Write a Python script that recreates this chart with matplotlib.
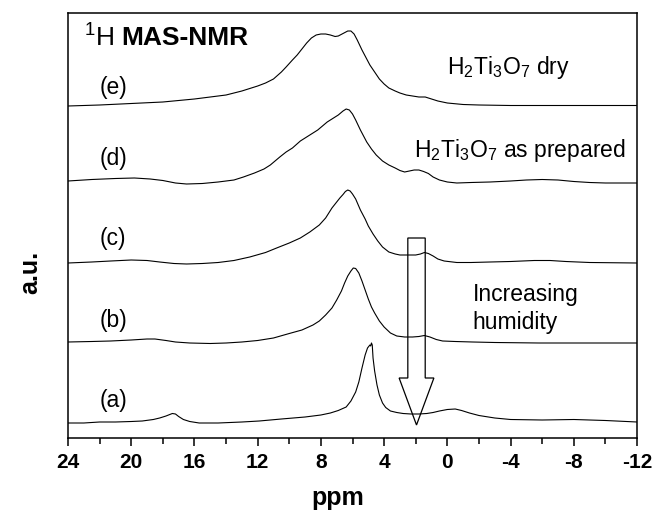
import matplotlib
matplotlib.use("Agg")
import matplotlib.pyplot as plt
from matplotlib.patches import Polygon
import numpy as np

plt.rcParams["font.family"] = ["Liberation Sans", "DejaVu Sans"]
plt.rcParams["mathtext.fontset"] = "custom"
plt.rcParams["mathtext.rm"] = "Liberation Sans"
plt.rcParams["mathtext.it"] = "Liberation Sans:italic"
plt.rcParams["mathtext.bf"] = "Liberation Sans:bold"

# spectra: chemical shift (ppm) and stacked intensity (a.u.)
ppm_e = [24, 22, 20, 18, 16, 14, 13, 12, 11.5, 11, 10.5, 10.2, 9.8, 9.5, 9.2, 8.9, 8.6, 8.3,
         8.0, 7.7, 7.4, 7.1, 6.9, 6.6, 6.3, 6.1, 5.9, 5.7, 5.4, 5.1, 4.9, 4.6, 4.3, 4.0,
         3.7, 3.3, 3.0, 2.6, 2.2, 1.8, 1.4, 1.0, 0.6, 0.0, -1, -2, -4, -12]
int_e = [332, 333, 334.5, 336, 339, 343, 347, 352, 355, 359, 366, 371, 378, 383, 389, 395, 400, 403,
         404, 404, 403, 401.5, 402, 404.5, 407, 407, 404, 398, 388, 379, 373, 366, 359, 354,
         350, 347, 345, 343, 342, 341, 341, 339, 337, 335, 333.5, 333, 332.5, 332.5]

ppm_d = [24, 22.5, 21, 19.8, 18.8, 18, 17.2, 16.5, 15.5, 14.5, 13.5, 12.9, 12.2, 11.6, 11.2,
         10.6, 10.2, 9.8, 9.3, 8.7, 8.2, 7.6, 7.2, 6.9, 6.6, 6.4, 6.2, 6.0, 5.8, 5.5, 5.1,
         4.8, 4.5, 4.1, 3.7, 3.3, 3.0, 2.7, 2.4, 2.1, 1.8, 1.5, 1.2, 0.9, 0.5, 0, -0.6,
         -1.5, -2.7, -4, -5, -6, -7, -8, -9, -10, -12]
int_d = [257, 258.5, 259.5, 260, 259, 257.5, 255, 254, 254.5, 256, 258, 261, 265, 269, 273,
         281, 286, 290, 297, 303, 308, 316, 320, 323, 327, 329, 328, 324, 318, 308, 296,
         289, 283, 277, 273, 270, 267.5, 266, 267, 268, 268, 266.5, 264.5, 261, 258, 256, 255,
         255.5, 256, 257, 258, 258.5, 258, 256.5, 255.5, 255, 255]

ppm_c = [24, 22.5, 21.3, 20, 19, 18.2, 17.3, 16.5, 15.5, 14.5, 13.5, 12.5, 11.5, 10.8, 10,
         9.3, 8.7, 8.1, 7.7, 7.3, 7.0, 6.8, 6.6, 6.45, 6.3, 6.15, 6.0, 5.8, 5.5, 5.2, 5.0,
         4.7, 4.4, 4.1, 3.7, 3.3, 3.0, 2.5, 2.0, 1.7, 1.45, 1.2, 0.9, 0.6, 0.2, -0.6, -1.5,
         -2.7, -4, -5.5, -6.5, -7.5, -9.0, -12]
int_c = [175, 176, 177, 178, 177.5, 176, 174.5, 174, 174.5, 175.5, 177.5, 181, 185.5, 190, 195,
         200, 206, 213, 220, 230, 236, 240, 243.5, 246.5, 248, 247, 244, 239, 228, 219, 212,
         204, 197, 191, 186, 184, 183, 183, 183, 184, 185.5, 184.5, 182, 179, 177, 175.5, 175.5,
         176, 176.5, 177.5, 177.5, 176.5, 175.5, 175]

ppm_b = [24, 22.5, 21.3, 20, 19, 18.5, 17.8, 17.2, 16.3, 15, 14, 13, 12, 11, 10, 9.2, 8.5,
         8.1, 7.7, 7.3, 7.0, 6.7, 6.5, 6.3, 6.1, 5.95, 5.8, 5.6, 5.4, 5.2, 5.0, 4.8, 4.6,
         4.3, 4.0, 3.6, 3.2, 2.7, 2.2, 1.8, 1.45, 1.1, 0.7, 0.3, -0.5, -1.6, -3, -5.8, -12]
int_b = [96, 96.5, 97, 98, 99, 99, 97.5, 96, 95, 94.5, 95, 96, 97.5, 100, 104.5, 108, 113,
         117, 123, 130, 138, 147, 155, 162, 167, 170, 169.5, 165, 157, 148, 139, 131, 125,
         117, 111, 105, 102, 101, 101, 101.5, 102.5, 101, 98.5, 97, 96.5, 96, 95.5, 95, 95]

ppm_a = [24, 23, 22, 21, 20, 19.3, 18.6, 18.2, 17.8, 17.4, 17.2, 17.0, 16.7, 16.3, 15.7, 14.5,
         13, 11.9, 10.5, 9, 8, 7.4, 6.9, 6.4, 6.1, 5.8, 5.6, 5.4, 5.2, 5.05, 4.9, 4.85,
         4.8, 4.75, 4.7, 4.6, 4.45, 4.3, 4.1, 3.9, 3.6, 3.2, 2.8, 2.3, 1.8, 1.3, 0.9, 0.5,
         0.0, -0.5, -0.9, -1.4, -2.0, -3, -4, -6, -8, -9, -10, -12]
int_a = [15, 15, 16, 16, 16.5, 17, 18.5, 20, 22, 24.5, 24, 21.5, 18.5, 16.5, 15, 15,
         16, 17, 19, 21, 23, 25, 27.5, 31, 37, 46, 56, 70, 83, 90, 93, 92,
         95, 93, 80, 67, 53, 43, 35, 30.5, 27, 25.5, 24.5, 24, 24, 24.5, 25.5, 27,
         28.5, 29, 27.5, 25, 22.5, 20, 18.5, 18, 18.5, 18, 17.5, 16]

curve_labels = ["(e)", "(d)", "(c)", "(b)", "(a)"]
label_y = [351, 280, 200, 117, 38]

fig = plt.figure(figsize=(6.55, 5.12), dpi=100)
ax = fig.add_axes([68 / 655, 74 / 512, 569 / 655, 425 / 512])

for x, y in [(ppm_e, int_e), (ppm_d, int_d), (ppm_c, int_c), (ppm_b, int_b), (ppm_a, int_a)]:
    ax.plot(x, y, color="black", lw=0.8)

for lab, y in zip(curve_labels, label_y):
    ax.text(22.0, y, lab, fontsize=16.5, ha="left", va="center")

ax.text(23.0, 400, r"$^{1}$H", fontsize=19, ha="left", va="center")
ax.text(20.6, 400, "MAS-NMR", fontsize=19, fontweight="bold", ha="left", va="center")
ax.text(0.0, 371, r"H$_2$Ti$_3$O$_7$ dry", fontsize=16.5, ha="left", va="center")
ax.text(2.1, 288, r"H$_2$Ti$_3$O$_7$ as prepared", fontsize=16.5, ha="left", va="center")
ax.text(-1.6, 143, "Increasing", fontsize=16.5, ha="left", va="center")
ax.text(-1.6, 116, "humidity", fontsize=16.5, ha="left", va="center")

# open arrow (outline only)
arrow = Polygon([(2.5, 200), (1.4, 200), (1.4, 60), (0.85, 60), (1.95, 13),
                 (3.05, 60), (2.5, 60)], closed=True, fill=False, ec="black", lw=0.9)
ax.add_patch(arrow)

ax.set_xlim(24, -12)
ax.set_ylim(0, 425)
ax.set_xticks(np.arange(24, -13, -4))
ax.set_xticklabels([str(v) for v in np.arange(24, -13, -4)])
ax.set_xticks(np.arange(22, -11, -4), minor=True)
ax.set_yticks([])
ax.tick_params(axis="x", which="major", direction="out", length=6, width=1.1, pad=5, labelsize=15)
ax.tick_params(axis="x", which="minor", direction="out", length=4, width=1.1)
for t in ax.get_xticklabels():
    t.set_fontweight("bold")
for s in ax.spines.values():
    s.set_linewidth(1.1)

fig.text(338 / 655, 1 - 498 / 512, "ppm", fontsize=18, fontweight="bold", ha="center", va="center")
fig.text(30 / 655, 1 - 272 / 512, "a.u.", fontsize=18, fontweight="bold", rotation=90,
         ha="center", va="center")

fig.savefig("out.png", dpi=100)
